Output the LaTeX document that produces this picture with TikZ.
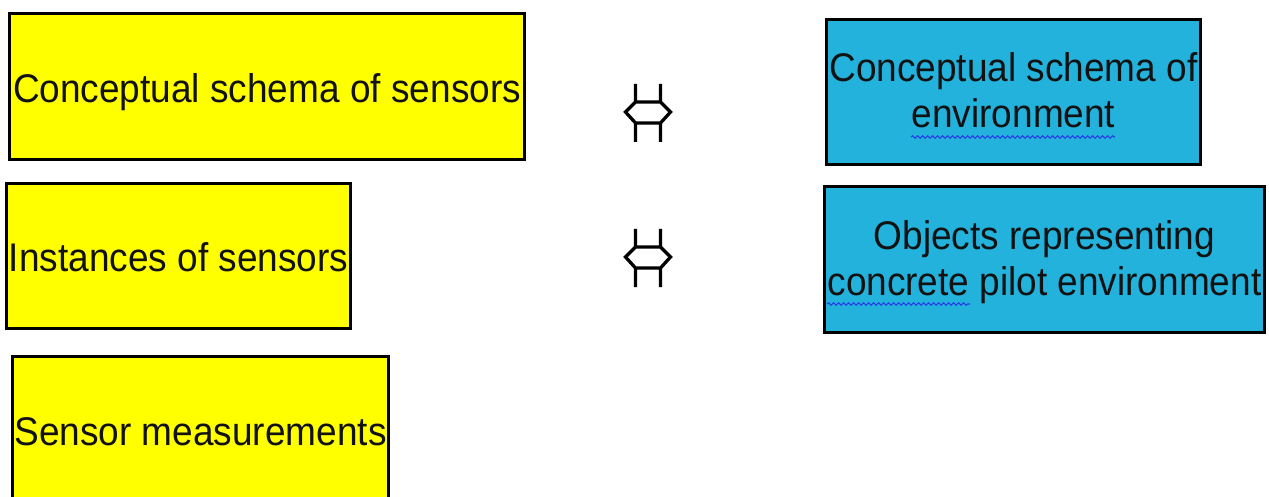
\documentclass[tikz,border=0pt]{standalone}
\usepackage{fontspec}
\setmainfont{Liberation Sans}[FakeStretch=0.925]
\usetikzlibrary{decorations.pathmorphing}
\definecolor{boxyellow}{RGB}{255,255,0}
\definecolor{boxblue}{RGB}{35,178,220}
\definecolor{inkgray}{RGB}{18,18,18}
\definecolor{spellblue}{RGB}{40,60,230}
\begin{document}
\begin{tikzpicture}[x=1pt,y=-1pt,
  card/.style={draw=black, line width=3pt, inner sep=0pt, align=center,
    text=inkgray, font=\fontsize{40}{46}\selectfont},
  sensorbox/.style={card, fill=boxyellow, text height=40pt, text depth=8pt},
  envbox/.style={card, fill=boxblue, text height=80pt, text depth=8pt},
  squiggle/.style={draw=spellblue, line width=1.1pt, decorate,
    decoration={snake, amplitude=1.2pt, segment length=5pt}},
  equiv/.pic={
    \draw[line width=3.3pt, line join=miter, draw=black]
      (-12,-28) -- (-12,-10) -- (-22,0) -- (-12,11) -- (-12,30)
      (13,-28) -- (13,-10) -- (23,0) -- (13,11) -- (13,30)
      (-12,-10) -- (13,-10)
      (-12,11) -- (13,11);
  }
]
\useasboundingbox[fill=white] (0,0) rectangle (1269,497);

% sensor side
\node[sensorbox, minimum width=515pt, minimum height=146pt] (schemaS) at (267,86.5)
  {Conceptual schema of sensors};
\node[sensorbox, minimum width=344pt, minimum height=145pt] (instS) at (178.5,256)
  {Instances of sensors};
\node[sensorbox, minimum width=376pt, minimum height=146pt] (measS) at (200.5,429.5)
  {Sensor measurements};

% environment side
\node[envbox, minimum width=374pt, minimum height=145pt] (schemaE) at (1013.5,92)
  {Conceptual schema of\\environment};
\node[envbox, minimum width=440pt, minimum height=146pt] (objE) at (1044.5,259.5)
  {Objects representing\\concrete pilot environment};

% spell-check underlines
\draw[squiggle] (911,137) -- (1115,137);
\draw[squiggle] (827,304) -- (970,304);

% correspondence symbols
\coordinate (eqA) at (647.5,112);
\coordinate (eqB) at (647.5,257);
\pic at (eqA) {equiv};
\pic at (eqB) {equiv};
\end{tikzpicture}
\end{document}
